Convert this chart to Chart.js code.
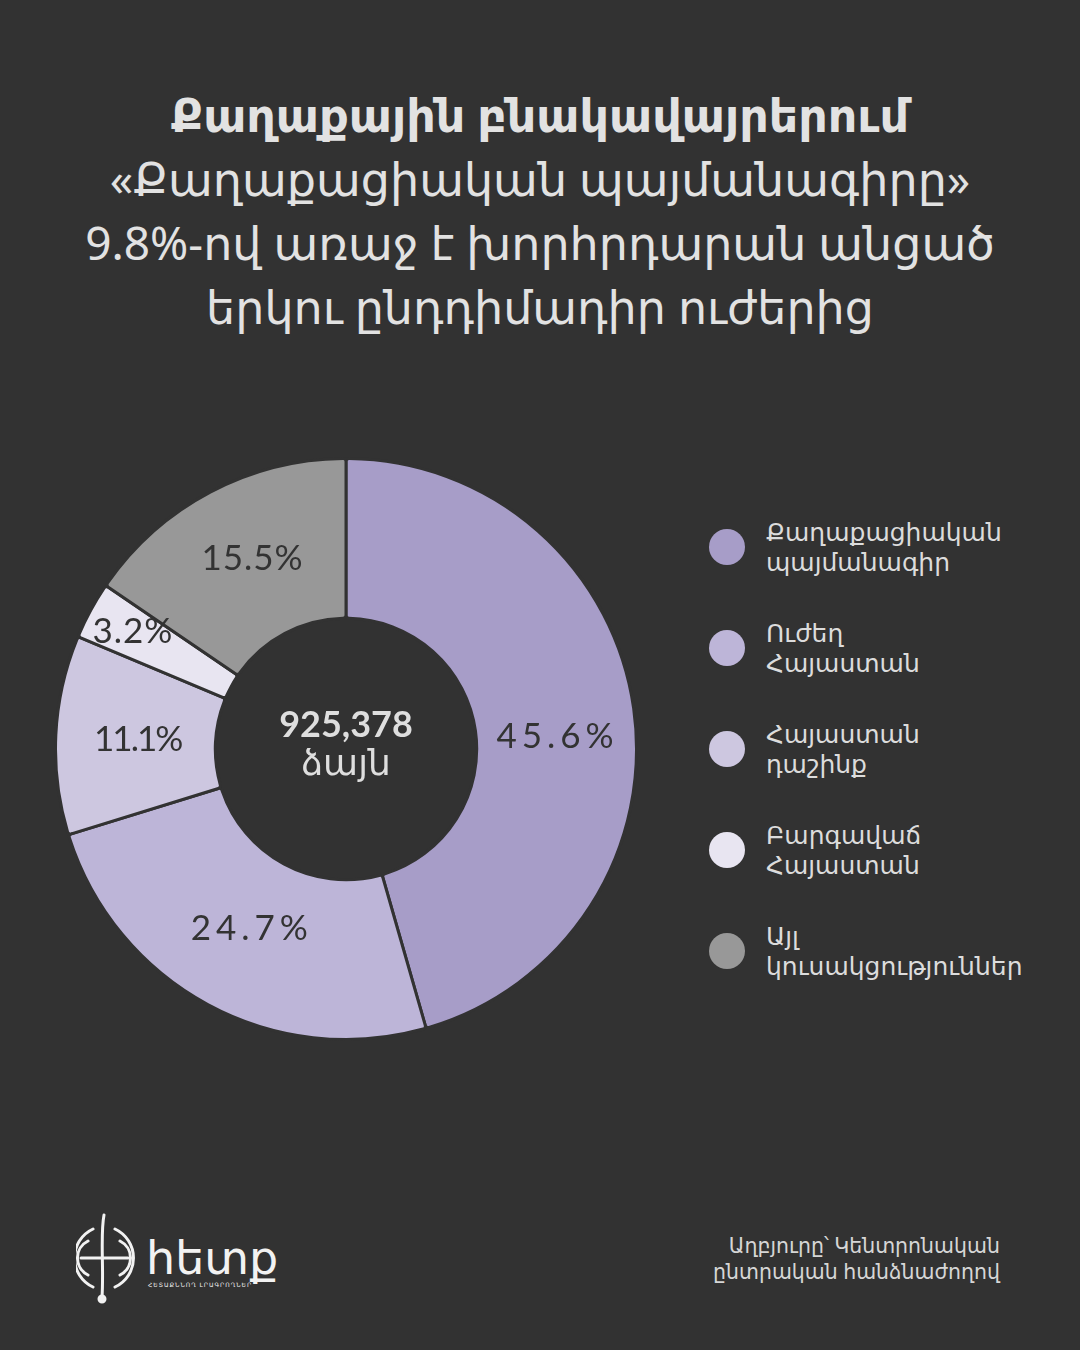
<!DOCTYPE html>
<html>
<head>
<meta charset="utf-8">
<script src="https://cdn.jsdelivr.net/npm/chart.js@4.4.1/dist/chart.umd.min.js"></script>
<style>
  html, body { margin: 0; padding: 0; }
  body {
    width: 1080px; height: 1350px; background: #323232; position: relative; overflow: hidden;
    font-family: "Noto Sans", "DejaVu Sans", sans-serif; color: #e2e2e2;
  }
  #title { position: absolute; top: 82px; left: 0; width: 1080px; text-align: center; font-size: 46px; line-height: 64px; }
  #title b { font-weight: 700; }
  #chartBox { position: absolute; left: 52px; top: 455px; width: 588px; height: 588px; }
  #legend { position: absolute; left: 708px; top: 520px; }
  .item { position: relative; height: 101px; }
  .dot { position: absolute; left: 1px; top: 9px; width: 36px; height: 36px; border-radius: 50%; }
  .lbl { position: absolute; left: 58px; top: -4px; font-size: 25px; line-height: 30px; color: #dcdcdc; white-space: nowrap; }
  #source { position: absolute; right: 80px; top: 1232px; text-align: right; font-size: 20.5px; line-height: 26px; color: #d6d6d6; }
  #logo { position: absolute; left: 76px; top: 1213px; }
</style>
</head>
<body>
<div id="title">
  <b>Քաղաքային բնակավայրերում</b><br>
  «Քաղաքացիական պայմանագիրը»<br>
  9.8%-ով առաջ է խորհրդարան անցած<br>
  երկու ընդդիմադիր ուժերից
</div>

<div id="chartBox"><canvas id="myChart" width="588" height="588"></canvas></div>

<div id="legend"></div>

<div id="source">Աղբյուրը՝ Կենտրոնական<br>ընտրական հանձնաժողով</div>

<svg id="logo" width="220" height="95" viewBox="0 0 220 95">
  <g fill="none" stroke="#f2f2f2" stroke-width="3" stroke-linecap="round">
    <path d="M28 2 C24 22 28 55 26 84"/>
    <circle cx="26" cy="86" r="3" fill="#f2f2f2"/>
    <path d="M17 16 A32 32 0 0 0 17 74"/>
    <path d="M12 28 A19 19 0 0 0 12 62"/>
    <path d="M39 16 A32 32 0 0 1 39 74"/>
    <path d="M44 28 A19 19 0 0 1 44 62"/>
    <path d="M5 45 L52 45"/>
  </g>
  <text x="70" y="61" font-size="46" fill="#f2f2f2" font-family="DejaVu Sans, sans-serif">հետք</text>
  <text x="72" y="74" font-size="6" fill="#f2f2f2" letter-spacing="1" font-family="DejaVu Sans, sans-serif">ՀԵՏԱՔՆՆՈՂ ԼՐԱԳՐՈՂՆԵՐ</text>
</svg>

<script>
const labels = [
  ['Քաղաքացիական', 'պայմանագիր'],
  [' Ուժեղ', ' Հայաստան'],
  ['Հայաստան', 'դաշինք'],
  ['Բարգավաճ', 'Հայաստան'],
  ['Այլ', 'կուսակցություններ']
];
const shares = [45.6, 24.7, 11.1, 3.2, 15.5];
const shareText = ['45.6%', '24.7%', '11.1%', '3.2%', '15.5%'];
const colors = ['#a79dc8', '#bdb5d8', '#cdc7e0', '#e8e5f1', '#989898'];
const totalVotes = '925,378';
const votesWord = 'ձայն';

// legend as html
const legendEl = document.getElementById('legend');
labels.forEach(function(l, i) {
    const row = document.createElement('div');
    row.className = 'item';
    row.innerHTML = '<div class="dot" style="background:' + colors[i] + '"></div>' +
        '<div class="lbl">' + l.join('<br>') + '</div>';
    legendEl.appendChild(row);
});

// nudges so labels sit where the original put them
const labelShift = [[3, 17], [6, -6], [2, 1], [-28, -17], [5, -4]];
const labelSpacing = ['5px', '5px', '-2px', '1px', '1px'];

const donutText = {
    id: 'donutText',
    afterDatasetsDraw(chart) {
        const ctx = chart.ctx;
        const meta = chart.getDatasetMeta(0);
        ctx.save();
        ctx.textAlign = 'center';
        ctx.textBaseline = 'middle';
        ctx.fillStyle = '#333333';
        ctx.font = '35px Lato, "Noto Sans", sans-serif';
        meta.data.forEach(function(arc, i) {
            const p = arc.tooltipPosition();
            ctx.letterSpacing = labelSpacing[i];
            ctx.fillText(shareText[i], p.x + labelShift[i][0], p.y + labelShift[i][1]);
        });
        ctx.letterSpacing = '0px';
        const c = meta.data[0];
        ctx.fillStyle = '#dedede';
        ctx.font = 'bold 36px Lato, "Noto Sans", sans-serif';
        ctx.fillText(totalVotes, c.x, c.y - 24);
        ctx.font = '36px "Noto Sans", "DejaVu Sans", sans-serif';
        ctx.fillText(votesWord, c.x, c.y + 16);
        ctx.restore();
    }
};

new Chart(document.getElementById('myChart').getContext('2d'), {
    type: 'doughnut',
    data: {
        labels: labels.map(function(l) { return l.join(' '); }),
        datasets: [{
            data: shares,
            backgroundColor: colors,
            borderColor: '#323232',
            borderWidth: 3,
            borderRadius: 3,
            borderJoinStyle: 'round'
        }]
    },
    options: {
        responsive: false,
        animation: false,
        cutout: '45%',
        layout: { padding: 2 },
        plugins: {
            legend: { display: false },
            tooltip: { enabled: false }
        }
    },
    plugins: [donutText]
});
</script>
</body>
</html>
